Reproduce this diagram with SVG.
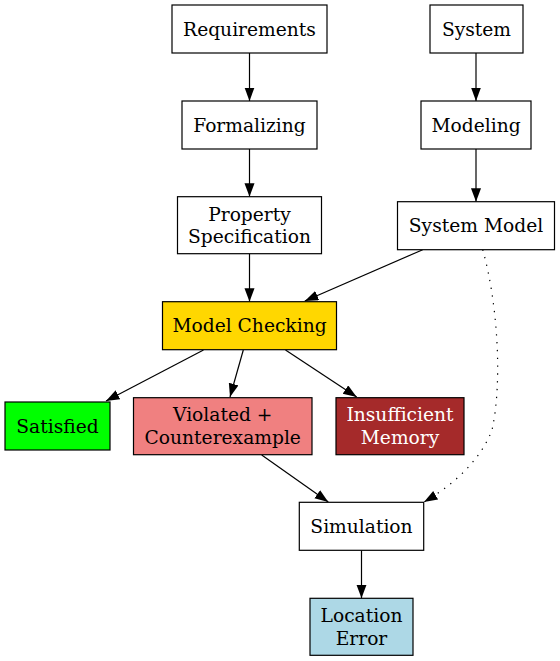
<svg xmlns="http://www.w3.org/2000/svg" width="560" height="661" viewBox="0 0 560 661">
<defs>
<style>
.n rect{stroke:#000;stroke-width:1.2;fill:#fff}
.n text{font-family:"DejaVu Serif","Liberation Serif",serif;font-size:18.67px;text-anchor:middle;fill:#000}
.e path{fill:none;stroke:#000;stroke-width:1.2}
.e .dot{stroke-dasharray:1.3,6.5}
</style>
<marker id="ah" markerUnits="userSpaceOnUse" markerWidth="16" markerHeight="12" refX="13.5" refY="5" orient="auto">
<path d="M0,0 L13.5,5 L0,10 z" fill="#000" stroke="none"/>
</marker>
</defs>
<rect width="560" height="661" fill="#fff"/>
<g id="edges" class="e">
<path d="M249.5,53 L249.5,101" marker-end="url(#ah)"/>
<path d="M249.5,149 L249.5,196.7" marker-end="url(#ah)"/>
<path d="M249.5,253.7 L249.5,301.7" marker-end="url(#ah)"/>
<path d="M476,53 L476,101" marker-end="url(#ah)"/>
<path d="M476,149 L476,201.7" marker-end="url(#ah)"/>
<path d="M422.7,249.7 L304.8,301" marker-end="url(#ah)"/>
<path class="dot" d="M482.7,249.7 C497,300 503,380 492,430 C480,462 450,487 424,502" marker-end="url(#ah)"/>
<path d="M203.5,350 L106,401" marker-end="url(#ah)"/>
<path d="M243.3,350 L230,397" marker-end="url(#ah)"/>
<path d="M285.5,350 L356.7,397" marker-end="url(#ah)"/>
<path d="M261.7,455 L328.3,502" marker-end="url(#ah)"/>
<path d="M361.5,550.3 L361.5,598.3" marker-end="url(#ah)"/>
</g>
<g id="requirements" class="n"><rect x="172" y="5" width="155" height="48"/><text x="249.5" y="35.5">Requirements</text></g>
<g id="system" class="n"><rect x="430" y="5" width="93" height="48"/><text x="476.5" y="35.5">System</text></g>
<g id="formalizing" class="n"><rect x="182" y="101" width="135" height="48"/><text x="249.5" y="131.5">Formalizing</text></g>
<g id="modeling" class="n"><rect x="421" y="101" width="110" height="48"/><text x="476" y="131.5">Modeling</text></g>
<g id="property" class="n"><rect x="177.5" y="196.7" width="144" height="57"/><text x="249.5" y="220.5">Property</text><text x="249.5" y="243">Specification</text></g>
<g id="systemmodel" class="n"><rect x="397.5" y="201.7" width="157" height="48"/><text x="476" y="232.2">System Model</text></g>
<g id="modelchecking" class="n"><rect x="162.5" y="301.7" width="174" height="48" style="fill:#ffd700"/><text x="249.5" y="332.4">Model Checking</text></g>
<g id="satisfied" class="n"><rect x="5" y="402" width="105" height="48" style="fill:#00ff00"/><text x="57.5" y="432.5">Satisfied</text></g>
<g id="violated" class="n"><rect x="133.5" y="397.7" width="178.5" height="57" style="fill:#f08080"/><text x="222.75" y="421.4">Violated +</text><text x="222.75" y="443.9">Counterexample</text></g>
<g id="insufficient" class="n"><rect x="336" y="397.7" width="128" height="57" style="fill:#a52a2a"/><text x="400" y="421.4" style="fill:#fff">Insufficient</text><text x="400" y="443.9" style="fill:#fff">Memory</text></g>
<g id="simulation" class="n"><rect x="299.3" y="502.3" width="124.4" height="48"/><text x="361.5" y="532.8">Simulation</text></g>
<g id="location" class="n"><rect x="310" y="598.3" width="103" height="57" style="fill:#add8e6"/><text x="361.5" y="622">Location</text><text x="361.5" y="644.5">Error</text></g>
</svg>
